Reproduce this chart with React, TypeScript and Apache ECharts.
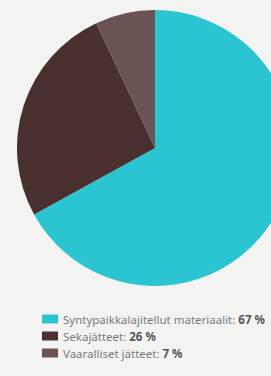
import React, { useEffect, useRef } from "react";
import * as echarts from "echarts";

const categories = ["Syntypaikkalajitellut materiaalit", "Sekajätteet", "Vaaralliset jätteet"];
const values = [67, 26, 7];
const colors = ["#2bc5d2", "#4a2f2f", "#6c5353"];

export default function App() {
  const ref = useRef<HTMLDivElement>(null);
  useEffect(() => {
    document.body.style.margin = "0";
    const chart = echarts.init(ref.current!, null, { renderer: "svg" });
    const valueMap: Record<string, number> = {};
    categories.forEach((c, i) => (valueMap[c] = values[i]));
    chart.setOption({
      animation: false,
      backgroundColor: "#f3f3f1",
      legend: {
        orient: "vertical",
        left: 42,
        top: 313,
        padding: 0,
        itemWidth: 16,
        itemHeight: 9,
        itemGap: 5,
        icon: "rect",
        data: categories,
        formatter: (name: string) => `{a|${name}: }{b|${valueMap[name]} %}`,
        textStyle: {
          fontFamily: "Noto Sans",
          fontSize: 11.5,
          lineHeight: 12,
          color: "#777",
          rich: {
            a: { fontFamily: "Noto Sans", fontSize: 11.5, lineHeight: 12, color: "#7a7a7a" },
            b: { fontFamily: "Noto Sans", fontSize: 11.5, lineHeight: 12, color: "#555", fontWeight: "bold" },
          },
        },
      },
      series: [
        {
          type: "pie",
          center: [155, 148],
          radius: 138,
          startAngle: 90,
          clockwise: true,
          label: { show: false },
          labelLine: { show: false },
          data: categories.map((c, i) => ({
            name: c,
            value: values[i],
            itemStyle: { color: colors[i] },
          })),
        },
      ],
    });
    return () => chart.dispose();
  }, []);
  return <div ref={ref} style={{ width: 271, height: 376 }} />;
}
